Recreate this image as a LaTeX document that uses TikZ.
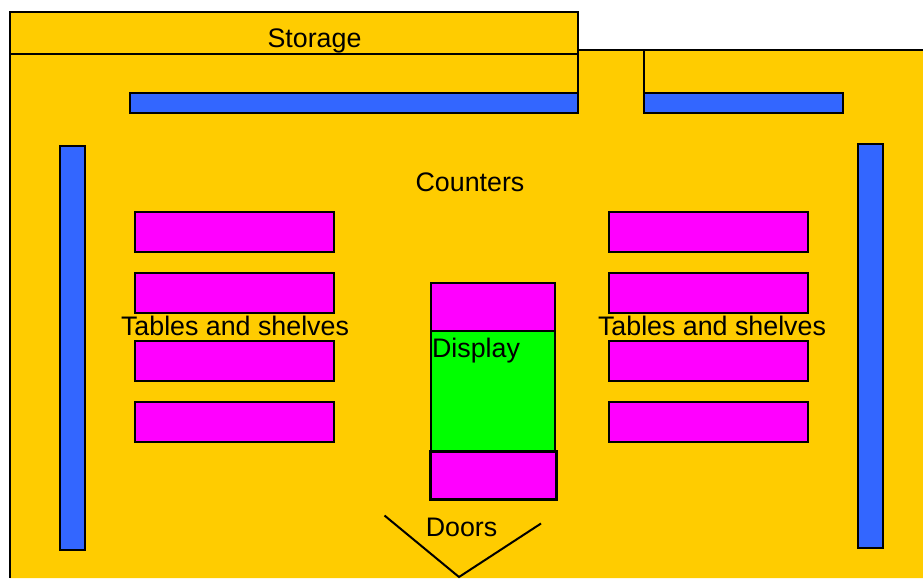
\documentclass[tikz,border=0pt]{standalone}
\usepackage{fontspec}
\setmainfont{Liberation Sans}
\usetikzlibrary{positioning}
\definecolor{floorgold}{RGB}{255, 204, 0}
\definecolor{counterblue}{RGB}{51, 102, 255}
\definecolor{shelfpink}{RGB}{255, 0, 255}
\definecolor{displaygreen}{RGB}{0, 255, 0}
\begin{document}
\begin{tikzpicture}[
        x=1pt, y=-1pt,
        block/.style={draw=black, line width=2pt, inner sep=0pt, outer sep=0pt},
        counter/.style={block, fill=counterblue},
        shelf/.style={block, fill=shelfpink, minimum width=199pt, minimum height=40pt},
        label/.style={font=\fontsize{26.8}{30}\selectfont, text=black, inner sep=0pt},
        wall/.style={line width=2pt, draw=black}
    ]
        \useasboundingbox (0, 0) rectangle (923, 578);

        % Floor
        \fill[floorgold] (10, 578) -- (10, 12.5) -- (578, 12.5) -- (578, 50.5) -- (923, 50.5) -- (923, 578) -- cycle;
        \draw[wall] (10, 578) -- (10, 12.5) -- (578, 12.5) -- (578, 50.5) -- (923, 50.5);

        % Storage
        \node[block, minimum width=568pt, minimum height=42pt] (storage) at (294, 33.5) {};
        \coordinate (gapleft) at (578, 113);
        \coordinate (gaptopright) at (644, 50.5);
        \coordinate (gapright) at (644, 113);
        \draw[wall] (storage.south east) -- (gapleft);
        \draw[wall] (gaptopright) -- (gapright);

        % Counters
        \node[counter, minimum width=448pt, minimum height=20pt] (topleft) at (354, 103) {};
        \node[counter, minimum width=199pt, minimum height=20pt] (topright) at (743.5, 103) {};
        \node[counter, minimum width=25pt, minimum height=404pt] (sideleft) at (72.5, 348) {};
        \node[counter, minimum width=25pt, minimum height=404pt] (sideright) at (870.5, 346) {};

        % Tables and shelves
        \node[shelf] (lefta) at (234.5, 232) {};
        \node[shelf] (leftb) at (234.5, 293) {};
        \node[shelf] (leftc) at (234.5, 361) {};
        \node[shelf] (leftd) at (234.5, 422) {};
        \node[shelf] (righta) at (708.5, 232) {};
        \node[shelf] (rightb) at (708.5, 293) {};
        \node[shelf] (rightc) at (708.5, 361) {};
        \node[shelf] (rightd) at (708.5, 422) {};

        % Display
        \node[block, fill=displaygreen, minimum width=124pt, minimum height=120pt] (display) at (493, 391) {};
        \node[block, fill=shelfpink, line width=2.4pt, minimum width=124pt, minimum height=48pt] (displaytop) at (493, 307) {};
        \node[block, fill=shelfpink, line width=3pt, minimum width=126pt, minimum height=48pt] (displaybot) at (493.5, 475) {};

        % Doors
        \coordinate (doorleft) at (384.5, 515.5);
        \coordinate (doormid) at (459, 577);
        \coordinate (doorright) at (541, 523.5);
        \draw[wall] (doorleft) -- (doormid) -- (doorright);

        % Labels
        \node[label] (storagetxt) at (314.5, 40.5) {Storage};
        \node[label] (counterstxt) at (470, 182.5) {Counters};
        \node[label] (tablesleft) at (235, 325.5) {Tables and shelves};
        \node[label] (tablesright) at (712, 325.5) {Tables and shelves};
        \node[label] (displaytxt) at (476, 351) {Display};
        \node[label] (doorstxt) at (461.5, 527) {Doors};
    \end{tikzpicture}
\end{document}
